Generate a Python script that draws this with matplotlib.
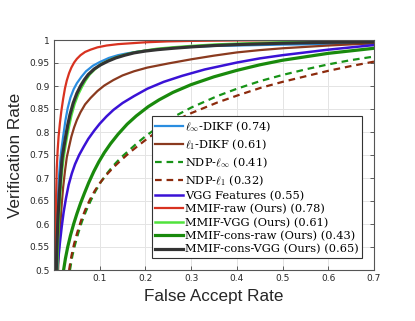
import matplotlib
matplotlib.use("Agg")
import matplotlib.pyplot as plt

# ---- data (FPR, TPR pairs) ----
linf_dikf_fpr = [0.004, 0.006, 0.008, 0.010, 0.013, 0.016, 0.020, 0.025, 0.030, 0.036, 0.043, 0.050, 0.060, 0.070, 0.085, 0.100, 0.120, 0.140, 0.160, 0.185, 0.211, 0.250, 0.300, 0.350, 0.400, 0.500, 0.600, 0.700]
linf_dikf_tpr = [0.500, 0.580, 0.640, 0.690, 0.730, 0.760, 0.790, 0.825, 0.852, 0.875, 0.893, 0.906, 0.920, 0.932, 0.944, 0.952, 0.961, 0.967, 0.971, 0.975, 0.978, 0.982, 0.985, 0.987, 0.988, 0.990, 0.991, 0.992]

l1_dikf_fpr = [0.009, 0.011, 0.014, 0.017, 0.020, 0.024, 0.028, 0.033, 0.038, 0.044, 0.050, 0.058, 0.068, 0.080, 0.095, 0.110, 0.130, 0.150, 0.175, 0.204, 0.250, 0.300, 0.350, 0.400, 0.450, 0.500, 0.600, 0.700]
l1_dikf_tpr = [0.500, 0.550, 0.600, 0.645, 0.680, 0.715, 0.745, 0.768, 0.790, 0.810, 0.826, 0.843, 0.860, 0.874, 0.889, 0.901, 0.913, 0.923, 0.932, 0.940, 0.949, 0.958, 0.966, 0.973, 0.978, 0.982, 0.988, 0.993]

ndp_linf_fpr = [0.035, 0.040, 0.046, 0.053, 0.061, 0.070, 0.080, 0.091, 0.103, 0.116, 0.130, 0.145, 0.163, 0.182, 0.203, 0.230, 0.260, 0.300, 0.357, 0.400, 0.452, 0.500, 0.554, 0.600, 0.648, 0.700]
ndp_linf_tpr = [0.500, 0.530, 0.555, 0.580, 0.605, 0.628, 0.650, 0.672, 0.692, 0.710, 0.727, 0.743, 0.759, 0.776, 0.793, 0.812, 0.832, 0.853, 0.878, 0.894, 0.911, 0.924, 0.937, 0.947, 0.956, 0.964]

ndp_l1_fpr = [0.033, 0.038, 0.044, 0.051, 0.059, 0.068, 0.078, 0.089, 0.101, 0.115, 0.130, 0.147, 0.165, 0.185, 0.210, 0.240, 0.270, 0.300, 0.357, 0.400, 0.452, 0.500, 0.554, 0.600, 0.648, 0.700]
ndp_l1_tpr = [0.500, 0.530, 0.557, 0.582, 0.607, 0.630, 0.652, 0.672, 0.690, 0.707, 0.723, 0.739, 0.755, 0.771, 0.790, 0.810, 0.827, 0.841, 0.864, 0.879, 0.896, 0.909, 0.922, 0.933, 0.943, 0.953]

vgg_fpr = [0.007, 0.010, 0.013, 0.017, 0.021, 0.026, 0.032, 0.039, 0.046, 0.055, 0.065, 0.075, 0.088, 0.100, 0.115, 0.130, 0.150, 0.175, 0.204, 0.240, 0.280, 0.330, 0.400, 0.450, 0.500, 0.600, 0.700]
vgg_tpr = [0.500, 0.530, 0.560, 0.595, 0.625, 0.655, 0.685, 0.710, 0.730, 0.750, 0.768, 0.785, 0.803, 0.818, 0.834, 0.848, 0.863, 0.878, 0.894, 0.909, 0.922, 0.936, 0.951, 0.960, 0.967, 0.979, 0.989]

mmif_raw_fpr = [0.002, 0.003, 0.004, 0.005, 0.006, 0.008, 0.010, 0.013, 0.016, 0.020, 0.024, 0.028, 0.033, 0.038, 0.044, 0.050, 0.058, 0.068, 0.080, 0.095, 0.115, 0.140, 0.170, 0.200, 0.250, 0.300, 0.400, 0.500, 0.700]
mmif_raw_tpr = [0.500, 0.560, 0.630, 0.680, 0.720, 0.760, 0.790, 0.820, 0.845, 0.872, 0.895, 0.912, 0.928, 0.940, 0.951, 0.959, 0.967, 0.974, 0.979, 0.984, 0.988, 0.991, 0.993, 0.995, 0.997, 0.998, 0.999, 0.9993, 0.9997]

mmif_vgg_fpr = [0.007, 0.009, 0.011, 0.014, 0.017, 0.021, 0.025, 0.029, 0.033, 0.038, 0.045, 0.053, 0.061, 0.069, 0.078, 0.090, 0.102, 0.118, 0.135, 0.155, 0.175, 0.200, 0.226, 0.260, 0.300, 0.350, 0.400, 0.500, 0.600, 0.700]
mmif_vgg_tpr = [0.500, 0.570, 0.620, 0.670, 0.710, 0.745, 0.770, 0.793, 0.813, 0.836, 0.861, 0.882, 0.898, 0.912, 0.925, 0.937, 0.947, 0.955, 0.962, 0.968, 0.973, 0.977, 0.981, 0.984, 0.987, 0.990, 0.992, 0.995, 0.997, 0.998]

cons_raw_fpr = [0.021, 0.025, 0.030, 0.036, 0.043, 0.050, 0.058, 0.067, 0.076, 0.087, 0.098, 0.110, 0.124, 0.140, 0.160, 0.180, 0.206, 0.230, 0.260, 0.300, 0.350, 0.400, 0.450, 0.500, 0.600, 0.700]
cons_raw_tpr = [0.500, 0.525, 0.550, 0.575, 0.600, 0.622, 0.645, 0.668, 0.690, 0.714, 0.735, 0.755, 0.775, 0.795, 0.817, 0.835, 0.855, 0.870, 0.886, 0.903, 0.920, 0.934, 0.946, 0.956, 0.971, 0.982]

cons_vgg_fpr = [0.005, 0.007, 0.009, 0.012, 0.015, 0.018, 0.022, 0.026, 0.030, 0.035, 0.042, 0.050, 0.058, 0.066, 0.075, 0.088, 0.102, 0.118, 0.135, 0.155, 0.175, 0.200, 0.226, 0.260, 0.300, 0.350, 0.400, 0.500, 0.600, 0.700]
cons_vgg_tpr = [0.500, 0.570, 0.620, 0.670, 0.710, 0.745, 0.770, 0.793, 0.815, 0.838, 0.863, 0.884, 0.900, 0.913, 0.925, 0.937, 0.946, 0.954, 0.961, 0.967, 0.972, 0.976, 0.979, 0.982, 0.985, 0.988, 0.990, 0.993, 0.995, 0.996]

labels = [r"$\ell_\infty$-DIKF (0.74)", r"$\ell_1$-DIKF (0.61)", r"NDP-$\ell_\infty$ (0.41)",
          r"NDP-$\ell_1$ (0.32)", "VGG Features (0.55)", "MMIF-raw (Ours) (0.78)",
          "MMIF-VGG (Ours) (0.61)", "MMIF-cons-raw (Ours) (0.43)", "MMIF-cons-VGG (Ours) (0.65)"]
x_ticks = [0.1, 0.2, 0.3, 0.4, 0.5, 0.6, 0.7]
y_ticks = [0.5, 0.55, 0.6, 0.65, 0.7, 0.75, 0.8, 0.85, 0.9, 0.95, 1.0]
y_ticklabels = ["0.5", "0.55", "0.6", "0.65", "0.7", "0.75", "0.8", "0.85", "0.9", "0.95", "1"]

series = [
    (linf_dikf_fpr, linf_dikf_tpr, "#2a8de0", "-", 1.6),
    (l1_dikf_fpr, l1_dikf_tpr, "#8a3a1f", "-", 1.6),
    (ndp_linf_fpr, ndp_linf_tpr, "#179317", (0, (3, 2.2)), 1.6),
    (ndp_l1_fpr, ndp_l1_tpr, "#8c2a0c", (0, (3, 2.2)), 1.6),
    (vgg_fpr, vgg_tpr, "#3a12d6", "-", 1.8),
    (mmif_raw_fpr, mmif_raw_tpr, "#d83220", "-", 1.6),
    (mmif_vgg_fpr, mmif_vgg_tpr, "#50e23c", "-", 1.8),
    (cons_raw_fpr, cons_raw_tpr, "#198a0c", "-", 2.3),
    (cons_vgg_fpr, cons_vgg_tpr, "#333333", "-", 2.3),
]

plt.rcParams["mathtext.fontset"] = "cm"

fig = plt.figure(figsize=(4.15, 3.21), dpi=100)
ax = fig.add_axes([54 / 415, 1 - 270 / 321, 320 / 415, 230 / 321])

for (fx, ty, c, ls, lw), lab in zip(series, labels):
    ax.plot(fx, ty, color=c, linestyle=ls, linewidth=lw, label=lab,
            solid_joinstyle="round", dash_joinstyle="round")

ax.set_xlim(0.0, 0.7)
ax.set_ylim(0.5, 1.0)
ax.set_xticks(x_ticks)
ax.set_xticklabels([f"{v:g}" for v in x_ticks])
ax.set_yticks(y_ticks)
ax.set_yticklabels(y_ticklabels)
ax.grid(True, color="#e4e4e4", linewidth=0.7)
ax.set_axisbelow(True)
ax.tick_params(direction="in", length=3, width=0.6, top=True, right=True,
               labelsize=6.5, labelcolor="#262626", colors="#444444", pad=3)
for sp in ax.spines.values():
    sp.set_color("#555555")
    sp.set_linewidth(0.8)

ax.set_xlabel("False Accept Rate", fontsize=12.3, family="Liberation Sans", color="#262626", labelpad=4)
ax.set_ylabel("Verification Rate", fontsize=12.3, family="Liberation Sans", color="#262626", labelpad=5)

leg = ax.legend(loc="lower right", bbox_to_anchor=(0.9625, 0.052), borderaxespad=0,
                prop={"family": "DejaVu Serif", "size": 8.2}, frameon=True, fancybox=False,
                edgecolor="#333333", framealpha=1, handlelength=2.4, handletextpad=0.2,
                labelspacing=0.27, borderpad=0.3)
leg.get_frame().set_linewidth(0.8)

fig.savefig("out.png", dpi=100)
